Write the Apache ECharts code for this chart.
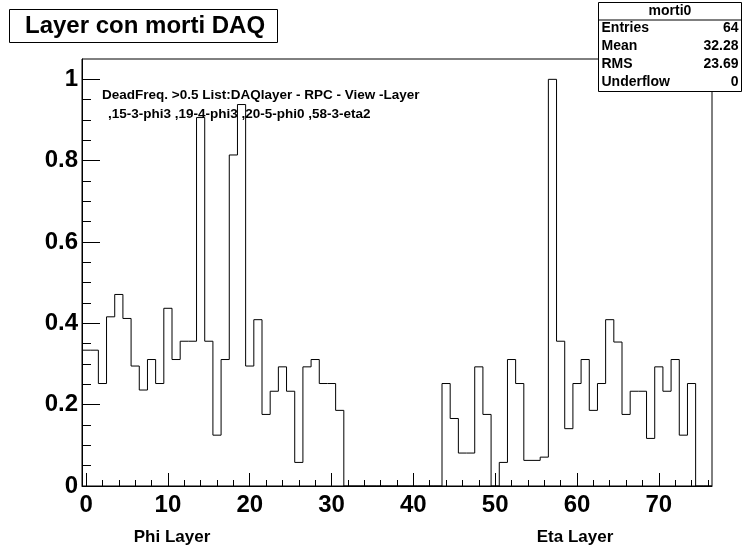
<!DOCTYPE html>
<html>
<head>
<meta charset="utf-8">
<style>
  html, body { margin: 0; padding: 0; background: #fff; }
  #chart { width: 743px; height: 552px; }
</style>
<script src="https://cdn.jsdelivr.net/npm/echarts@6/dist/echarts.min.js"></script>
</head>
<body>
<div id="chart"></div>
<script>
// Bin contents of histogram "morti0": one value per layer index 0..76
const binValues = [
  0.334, 0.334, 0.252, 0.416, 0.471, 0.412, 0.295, 0.236, 0.311, 0.252,
  0.437, 0.311, 0.356, 0.356, 0.906, 0.356, 0.125, 0.311, 0.814, 0.938,
  0.295, 0.409, 0.176, 0.233, 0.293, 0.233, 0.058, 0.293, 0.311, 0.252,
  0.252, 0.186, 0, 0, 0, 0, 0, 0, 0, 0,
  0, 0, 0, 0, 0.252, 0.166, 0.081, 0.081, 0.293, 0.176,
  0, 0.058, 0.311, 0.252, 0.063, 0.063, 0.071, 1.0, 0.356, 0.141,
  0.252, 0.311, 0.186, 0.252, 0.409, 0.354, 0.176, 0.233, 0.233, 0.117,
  0.293, 0.233, 0.311, 0.125, 0.252, 0, 0
];

// Axis ticks
const xMajorTicks = [0, 10, 20, 30, 40, 50, 60, 70];
const xMinorTicks = [2, 4, 6, 8, 12, 14, 16, 18, 22, 24, 26, 28, 32, 34, 36, 38,
  42, 44, 46, 48, 52, 54, 56, 58, 62, 64, 66, 68, 72, 74, 76];
const yMajorTicks = [0, 0.2, 0.4, 0.6, 0.8, 1];
const yMinorTicks = [0.05, 0.1, 0.15, 0.25, 0.3, 0.35, 0.45, 0.5, 0.55,
  0.65, 0.7, 0.75, 0.85, 0.9, 0.95];

// Texts
const titleText = 'Layer con morti DAQ';
const statsName = 'morti0';
const statLabels = ['Entries', 'Mean', 'RMS', 'Underflow'];
const statValues = ['64', '32.28', '23.69', '0'];
const noteLines = [
  'DeadFreq. >0.5 List:DAQlayer - RPC - View -Layer',
  ',15-3-phi3 ,19-4-phi3 ,20-5-phi0 ,58-3-eta2'
];
const xTitles = ['Phi Layer', 'Eta Layer'];

const FONT = '"Liberation Sans", Arial, Helvetica, sans-serif';

// Histogram outline: each bin spans [i-0.5, i+0.5]
const outline = [];
binValues.forEach((v, i) => {
  outline.push([i - 0.5, v]);
  outline.push([i + 0.5, v]);
});

const X_MIN = -0.5, X_MAX = binValues.length - 0.5;
const Y_MIN = 0, Y_MAX = 1.05;

const chart = echarts.init(document.getElementById('chart'), null, { renderer: 'canvas' });

const hiddenSplit = { show: false };
const black = { color: '#000', width: 1 };

const statsX = 598.5, statsY = 2.5, statsW = 143, statsH = 89;
const headerH = 17;
const rowH = (statsH - headerH) / statLabels.length;

const graphics = [
  // title box
  { type: 'rect', z: 100, shape: { x: 9.5, y: 9.5, width: 268, height: 33 },
    style: { fill: '#fff', stroke: '#000', lineWidth: 1 } },
  { type: 'text', z: 101, x: 25, y: 26,
    style: { text: titleText, font: 'bold 24px ' + FONT, fill: '#000', verticalAlign: 'middle' } },
  // statistics box
  { type: 'rect', z: 100, shape: { x: statsX, y: statsY, width: statsW, height: statsH },
    style: { fill: '#fff', stroke: '#000', lineWidth: 1 } },
  { type: 'line', z: 101, shape: { x1: statsX, y1: statsY + headerH + 0.5, x2: statsX + statsW, y2: statsY + headerH + 0.5 },
    style: { stroke: '#000', lineWidth: 1 } },
  { type: 'text', z: 101, x: statsX + statsW / 2, y: statsY + headerH / 2 + 0.5,
    style: { text: statsName, font: 'bold 14px ' + FONT, fill: '#000', align: 'center', verticalAlign: 'middle' } }
];
statLabels.forEach((lab, i) => {
  const cy = statsY + headerH + rowH * (i + 0.5);
  graphics.push({ type: 'text', z: 101, x: statsX + 3, y: cy,
    style: { text: lab, font: 'bold 14px ' + FONT, fill: '#000', verticalAlign: 'middle' } });
  graphics.push({ type: 'text', z: 101, x: statsX + statsW - 3, y: cy,
    style: { text: statValues[i], font: 'bold 14px ' + FONT, fill: '#000', align: 'right', verticalAlign: 'middle' } });
});
// note inside the frame
graphics.push({ type: 'text', z: 101, x: 102, y: 95,
  style: { text: noteLines[0], font: 'bold 13.5px ' + FONT, fill: '#000', verticalAlign: 'middle' } });
graphics.push({ type: 'text', z: 101, x: 108, y: 114,
  style: { text: noteLines[1], font: 'bold 13.5px ' + FONT, fill: '#000', verticalAlign: 'middle' } });
// axis titles
graphics.push({ type: 'text', z: 101, x: 172, y: 537,
  style: { text: xTitles[0], font: 'bold 17px ' + FONT, fill: '#000', align: 'center', verticalAlign: 'middle' } });
graphics.push({ type: 'text', z: 101, x: 575, y: 537,
  style: { text: xTitles[1], font: 'bold 17px ' + FONT, fill: '#000', align: 'center', verticalAlign: 'middle' } });

const option = {
  animation: false,
  backgroundColor: '#fff',
  grid: {
    left: 82, right: 31, top: 59, bottom: 66,
    show: true, borderColor: '#000', borderWidth: 1, backgroundColor: 'transparent'
  },
  xAxis: [
    {
      type: 'value', min: X_MIN, max: X_MAX, position: 'bottom',
      axisLine: { show: true, onZero: false, lineStyle: black },
      axisTick: { show: true, inside: true, length: 13, customValues: xMajorTicks, lineStyle: black },
      axisLabel: { show: true, customValues: xMajorTicks, margin: 7, color: '#000',
        fontFamily: FONT, fontWeight: 'bold', fontSize: 24 },
      splitLine: hiddenSplit
    },
    {
      type: 'value', min: X_MIN, max: X_MAX, position: 'bottom',
      axisLine: { show: false, onZero: false },
      axisTick: { show: true, inside: true, length: 6, customValues: xMinorTicks, lineStyle: black },
      axisLabel: { show: false },
      splitLine: hiddenSplit
    }
  ],
  yAxis: [
    {
      type: 'value', min: Y_MIN, max: Y_MAX, position: 'left',
      axisLine: { show: true, onZero: false, lineStyle: black },
      axisTick: { show: true, inside: true, length: 18, customValues: yMajorTicks, lineStyle: black },
      axisLabel: { show: true, customValues: yMajorTicks, margin: 4, color: '#000',
        fontFamily: FONT, fontWeight: 'bold', fontSize: 24 },
      splitLine: hiddenSplit
    },
    {
      type: 'value', min: Y_MIN, max: Y_MAX, position: 'left',
      axisLine: { show: false, onZero: false },
      axisTick: { show: true, inside: true, length: 9, customValues: yMinorTicks, lineStyle: black },
      axisLabel: { show: false },
      splitLine: hiddenSplit
    }
  ],
  series: [
    {
      type: 'line',
      xAxisIndex: 0, yAxisIndex: 0,
      data: outline,
      showSymbol: false,
      symbol: 'none',
      silent: true,
      lineStyle: { color: '#000', width: 1 },
      z: 5
    }
  ],
  graphic: graphics
};

chart.setOption(option);
</script>
</body>
</html>
